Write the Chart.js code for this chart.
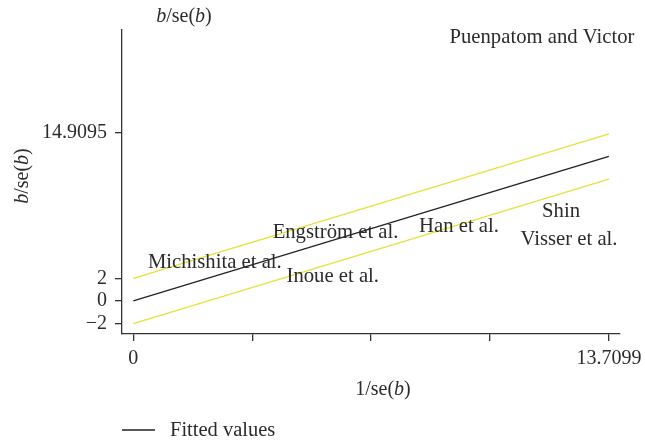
<!DOCTYPE html>
<html>
<head>
<meta charset="utf-8">
<script src="https://cdn.jsdelivr.net/npm/chart.js@4"></script>
<style>
  html, body { margin: 0; padding: 0; background: #fff; }
</style>
</head>
<body>
<canvas id="myChart" width="645" height="443"></canvas>
<script>
// study labels placed at their (1/se, b/se) points
var studyNames = ["Michishita et al.", "Engström et al.", "Inoue et al.", "Han et al.", "Shin", "Visser et al.", "Puenpatom and Victor"];
var studyX = [2.35, 5.83, 5.75, 9.39, 12.33, 12.56, 11.78];
var studyY = [3.36, 6.02, 2.12, 6.55, 7.88, 5.40, 23.27];

// fitted line and +/-2 band, at x = 0 and x = max precision
var lineX = [0, 13.7099];
var fitted = [0, 12.77];
var upperBand = [2, 14.77];
var lowerBand = [-2, 10.77];

var xTicks = [0, 3.4275, 6.855, 10.2824, 13.7099];
var xTickLabels = ["0", "", "", "", "13.7099"];
var yTicks = [-2, 0, 2, 14.9095];
var yTickLabels = ["\u22122", "0", "2", "14.9095"];

var FONT = "'Liberation Serif', 'Times New Roman', serif";
var TEXT = "#2b2b2b";

function pts(xs, ys) {
  return xs.map(function (x, i) { return { x: x, y: ys[i] }; });
}

function drawRich(ctx, parts, x, y, size) {
  // parts: [text, italic]
  var w = 0;
  parts.forEach(function (p) {
    ctx.font = (p[1] ? "italic " : "") + size + "px " + FONT;
    w += ctx.measureText(p[0]).width;
  });
  var cx = x - w / 2;
  parts.forEach(function (p) {
    ctx.font = (p[1] ? "italic " : "") + size + "px " + FONT;
    ctx.fillText(p[0], cx, y);
    cx += ctx.measureText(p[0]).width;
  });
}

var bse = [["b", true], ["/se(", false], ["b", true], [")", false]];

var labelPlugin = {
  id: "labels",
  afterDatasetsDraw: function (chart) {
    var ctx = chart.ctx;
    var xs = chart.scales.x, ys = chart.scales.y;
    ctx.save();
    ctx.fillStyle = TEXT;
    ctx.textBaseline = "middle";
    ctx.textAlign = "center";
    ctx.font = "20.7px " + FONT;
    studyNames.forEach(function (name, i) {
      ctx.fillText(name, xs.getPixelForValue(studyX[i]), ys.getPixelForValue(studyY[i]));
    });

    ctx.textAlign = "left";
    // title above the y axis
    drawRich(ctx, bse, 184, 17, 20);
    // x axis title
    drawRich(ctx, [["1/se(", false], ["b", true], [")", false]], 383, 390, 20);
    // rotated y axis title
    ctx.save();
    ctx.translate(23, 176);
    ctx.rotate(-Math.PI / 2);
    drawRich(ctx, bse, 0, 0, 20);
    ctx.restore();

    // legend
    ctx.strokeStyle = "#222";
    ctx.lineWidth = 1.3;
    ctx.beginPath();
    ctx.moveTo(122, 430);
    ctx.lineTo(155, 430);
    ctx.stroke();
    ctx.font = "20.5px " + FONT;
    ctx.fillText("Fitted values", 170, 431);
    ctx.restore();
  }
};

var ctx = document.getElementById("myChart").getContext("2d");
var myChart = new Chart(ctx, {
  type: "scatter",
  data: {
    datasets: [
      { label: "Upper", data: pts(lineX, upperBand), showLine: true, borderColor: "#e8e03a", borderWidth: 1.3, pointRadius: 0 },
      { label: "Lower", data: pts(lineX, lowerBand), showLine: true, borderColor: "#e8e03a", borderWidth: 1.3, pointRadius: 0 },
      { label: "Fitted values", data: pts(lineX, fitted), showLine: true, borderColor: "#222", borderWidth: 1.3, pointRadius: 0 }
    ]
  },
  options: {
    responsive: false,
    animation: false,
    layout: { padding: { top: 30, right: 25, left: 0, bottom: 0 } },
    plugins: { legend: { display: false }, tooltip: { enabled: false } },
    scales: {
      x: {
        type: "linear",
        min: -0.326,
        max: 14.03,
        afterBuildTicks: function (scale) {
          scale.ticks = xTicks.map(function (v) { return { value: v }; });
        },
        afterFit: function (scale) {
          scale.height = 109;
          scale.paddingLeft = 0;
          scale.paddingRight = 0;
        },
        ticks: {
          autoSkip: false,
          maxRotation: 0,
          padding: 6,
          color: TEXT,
          font: { family: FONT, size: 20 },
          callback: function (v, i) { return xTickLabels[i]; }
        },
        grid: { drawOnChartArea: false, drawTicks: true, tickLength: 7, color: "#333", lineWidth: 1.3 },
        border: { display: true, color: "#333", width: 1.3 }
      },
      y: {
        type: "linear",
        min: -2.92,
        max: 23.95,
        afterBuildTicks: function (scale) {
          scale.ticks = yTicks.map(function (v) { return { value: v }; });
        },
        afterFit: function (scale) {
          scale.width = 122;
          scale.paddingTop = 0;
          scale.paddingBottom = 0;
        },
        ticks: {
          autoSkip: false,
          padding: 8,
          color: TEXT,
          font: { family: FONT, size: 20 },
          callback: function (v, i) { return yTickLabels[i]; }
        },
        grid: { drawOnChartArea: false, drawTicks: true, tickLength: 7, color: "#333", lineWidth: 1.3 },
        border: { display: true, color: "#333", width: 1.3 }
      }
    }
  },
  plugins: [labelPlugin]
});
</script>
</body>
</html>
